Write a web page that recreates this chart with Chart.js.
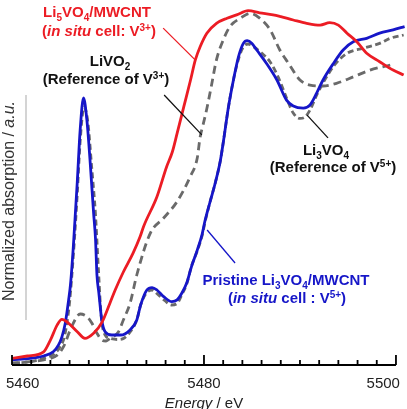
<!DOCTYPE html>
<html>
<head>
<meta charset="utf-8">
<script src="https://cdn.jsdelivr.net/npm/chart.js@4.4.1/dist/chart.umd.min.js"></script>
<style>
  html, body { margin: 0; padding: 0; background: #fff; }
</style>
</head>
<body>
<canvas id="xanes" width="407" height="409"></canvas>
<script>
// x axis: energy in eV
const energyLabels = [5460, 5480, 5500];
const energyMin = 5460;
const energyMax = 5500;
const minorStep = 2;

// Li5VO4/MWCNT, in situ cell (V3+)
const li5Energy = [5460.0, 5461.6, 5463.3, 5464.0, 5464.7, 5465.2, 5465.9, 5466.8, 5467.6, 5468.5,
  5469.4, 5470.2, 5470.75, 5471.6, 5472.6, 5473.35, 5473.7, 5475.1,
  5476.1, 5476.7, 5477.2, 5477.9, 5478.6, 5479.1, 5479.6, 5480.3, 5481.3, 5482.4,
  5483.4, 5484.6, 5485.8, 5487.2, 5488.0, 5489.3, 5490.7, 5492.1, 5493.1, 5494.0,
  5494.9, 5495.9, 5496.95, 5498.3, 5499.7, 5500.8];
const li5Abs = [0.022, 0.030, 0.044, 0.083, 0.133, 0.152, 0.139, 0.111, 0.089, 0.106,
  0.144, 0.206, 0.250, 0.310, 0.372, 0.428, 0.461, 0.561,
  0.660, 0.710, 0.772, 0.861, 0.950, 1.017, 1.061, 1.106, 1.139, 1.156,
  1.167, 1.181, 1.174, 1.167, 1.161, 1.150, 1.139, 1.133, 1.141, 1.133,
  1.106, 1.078, 1.039, 1.011, 0.983, 0.967];

// Pristine Li3VO4/MWCNT, in situ cell (V5+)
const pristineEnergy = [5460.0, 5461.9, 5463.3, 5464.3, 5464.85, 5465.2, 5465.55, 5465.9, 5466.1, 5466.4,
  5466.8, 5467.1, 5467.45, 5467.8, 5468.15, 5468.5, 5468.7, 5468.85, 5469.05, 5469.35,
  5469.7, 5470.4, 5471.3, 5472.3, 5473.0, 5473.4, 5474.05, 5474.6, 5475.1, 5475.8,
  5476.65, 5477.2, 5477.7, 5478.2, 5478.7, 5479.3, 5479.8, 5480.1, 5480.6, 5481.2,
  5481.7, 5482.0, 5482.55, 5483.1, 5483.6, 5484.1, 5484.5, 5485.0, 5485.5, 5486.5,
  5487.6, 5488.6, 5489.3, 5490.35, 5491.05, 5491.75, 5492.4, 5493.5, 5494.5, 5495.6,
  5496.95, 5498.3, 5499.7, 5500.9];
const pristineAbs = [0.017, 0.022, 0.030, 0.044, 0.067, 0.094, 0.139, 0.217, 0.270, 0.400,
  0.610, 0.783, 0.890, 0.817, 0.673, 0.507, 0.420, 0.300, 0.240, 0.150,
  0.111, 0.100, 0.100, 0.117, 0.150, 0.200, 0.250, 0.258, 0.250, 0.228,
  0.211, 0.217, 0.240, 0.273, 0.328, 0.383, 0.435, 0.480, 0.540, 0.610,
  0.680, 0.740, 0.860, 0.955, 1.028, 1.072, 1.081, 1.072, 1.050, 1.006,
  0.950, 0.883, 0.863, 0.856, 0.867, 0.907, 0.950, 1.006, 1.050, 1.078,
  1.089, 1.106, 1.117, 1.128];

// LiVO2 reference (V3+)
const livo2Energy = [5460.0, 5461.9, 5463.3, 5464.7, 5465.37, 5466.07, 5466.77, 5467.11, 5467.81, 5468.33,
  5468.85, 5469.37, 5469.8, 5470.23, 5471.1, 5471.6, 5472.3, 5473.0, 5474.4, 5475.8,
  5477.2, 5478.6, 5479.3, 5479.6, 5479.9, 5480.3, 5480.8, 5481.3, 5482.0, 5482.7,
  5483.8, 5484.8, 5485.8, 5486.9, 5487.9, 5488.8, 5490.0, 5491.05, 5492.4, 5493.8,
  5495.6, 5497.3, 5499.4];
const livo2Abs = [0.006, 0.011, 0.017, 0.033, 0.061, 0.117, 0.161, 0.170, 0.161, 0.139,
  0.106, 0.083, 0.080, 0.089, 0.111, 0.150, 0.206, 0.300, 0.439, 0.490,
  0.545, 0.630, 0.690, 0.760, 0.800, 0.855, 0.935, 1.017, 1.083, 1.128,
  1.156, 1.172, 1.156, 1.117, 1.050, 1.006, 0.950, 0.933, 0.930, 0.939,
  0.961, 0.983, 1.000];

// Li3VO4 reference (V5+)
const li3vo4Energy = [5460.0, 5461.9, 5463.3, 5464.3, 5465.0, 5465.5, 5466.0, 5466.4, 5466.8, 5467.1,
  5467.5, 5467.9, 5468.3, 5468.7, 5469.0, 5469.3, 5469.7, 5470.3, 5471.0, 5471.7,
  5472.3, 5473.0, 5473.4, 5474.0, 5474.6, 5475.2, 5475.9, 5476.6, 5477.2, 5477.7,
  5478.2, 5478.7, 5479.3, 5479.8, 5480.1, 5480.6, 5481.2, 5481.7, 5482.0, 5482.55,
  5483.1, 5483.6, 5484.1, 5484.6, 5485.2, 5486.0, 5486.9, 5487.8, 5488.6, 5489.3,
  5490.0, 5490.5, 5491.05, 5491.75, 5492.4, 5493.6, 5494.9, 5496.6, 5498.3, 5499.4,
  5500.8];
const li3vo4Abs = [0.006, 0.011, 0.022, 0.035, 0.060, 0.100, 0.210, 0.370, 0.570, 0.745,
  0.860, 0.810, 0.660, 0.500, 0.320, 0.160, 0.100, 0.088, 0.085, 0.090,
  0.110, 0.150, 0.200, 0.240, 0.250, 0.235, 0.215, 0.200, 0.205, 0.235,
  0.270, 0.330, 0.380, 0.430, 0.475, 0.540, 0.610, 0.680, 0.740, 0.860,
  0.955, 1.020, 1.060, 1.070, 1.060, 1.040, 1.010, 0.955, 0.890, 0.840,
  0.822, 0.826, 0.850, 0.900, 0.940, 1.000, 1.039, 1.056, 1.072, 1.089,
  1.100];

const RED = 'rgb(236,28,36)';
const BLUE = 'rgb(22,22,200)';
const GREY = '#6a6a6a';
const FONT = '"Liberation Sans", Arial, Helvetica, sans-serif';

const pts = (xs, ys) => xs.map((v, i) => ({ x: v, y: ys[i] }));

// draws text made of pieces (sub/superscripts, italics), centred on cx
function richText(ctx, parts, cx, base, size, color, weight) {
  const fontOf = p => (p.i ? 'italic ' : '') + weight + ' ' +
    (p.s ? Math.round(size * 0.68) : size) + 'px ' + FONT;
  let w = 0;
  parts.forEach(p => { ctx.font = fontOf(p); w += ctx.measureText(p.t).width; });
  let xx = cx - w / 2;
  ctx.fillStyle = color;
  ctx.textAlign = 'left';
  ctx.textBaseline = 'alphabetic';
  parts.forEach(p => {
    ctx.font = fontOf(p);
    const dy = p.s === 'sub' ? size * 0.27 : p.s === 'sup' ? -size * 0.36 : 0;
    ctx.fillText(p.t, xx, base + dy);
    xx += ctx.measureText(p.t).width;
  });
}

// leader lines, in data units (from label to curve)
const leaders = [
  { from: [5475.75, 1.123], to: [5479.08, 1.017], color: RED },
  { from: [5475.85, 0.900], to: [5479.78, 0.767], color: '#111' },
  { from: [5492.92, 0.757], to: [5490.74, 0.833], color: '#111' },
  { from: [5483.24, 0.340], to: [5480.33, 0.450], color: BLUE }
];

const decor = {
  id: 'decor',
  afterDatasetsDraw(chart) {
    const { ctx, scales: { x, y } } = chart;
    ctx.save();

    // leader lines
    ctx.lineWidth = 1.3;
    leaders.forEach(l => {
      ctx.strokeStyle = l.color;
      ctx.beginPath();
      ctx.moveTo(x.getPixelForValue(l.from[0]), y.getPixelForValue(l.from[1]));
      ctx.lineTo(x.getPixelForValue(l.to[0]), y.getPixelForValue(l.to[1]));
      ctx.stroke();
    });

    // x axis line with inward ticks
    const y0 = y.getPixelForValue(0);
    const xa = x.getPixelForValue(energyMin), xb = x.getPixelForValue(energyMax);
    ctx.strokeStyle = '#000';
    ctx.lineWidth = 1.8;
    ctx.beginPath();
    ctx.moveTo(xa, y0); ctx.lineTo(xb, y0);
    for (let e = energyMin; e <= energyMax; e += minorStep) {
      const px = x.getPixelForValue(e);
      const len = energyLabels.includes(e) ? 10 : 5;
      ctx.moveTo(px, y0); ctx.lineTo(px, y0 - len);
    }
    ctx.stroke();

    // tick labels: first and last kept inside the axis
    ctx.font = '15px ' + FONT;
    ctx.fillStyle = '#222';
    ctx.textBaseline = 'alphabetic';
    energyLabels.forEach((e, i) => {
      const px = x.getPixelForValue(e);
      if (i === 0) { ctx.textAlign = 'left'; ctx.fillText(String(e), px - 6, y0 + 23); }
      else if (i === energyLabels.length - 1) { ctx.textAlign = 'right'; ctx.fillText(String(e), px + 4, y0 + 23); }
      else { ctx.textAlign = 'center'; ctx.fillText(String(e), px, y0 + 23); }
    });

    // x title
    richText(ctx, [{ t: 'Energy', i: true }, { t: ' / eV' }], 204, 408, 15, '#222', 'normal');

    // y title and scale bar
    ctx.save();
    ctx.translate(8, 201);
    ctx.rotate(-Math.PI / 2);
    richText(ctx, [{ t: 'Normalized absorption / ' }, { t: 'a.u.', i: true }], 0, 5.5, 16, '#333', 'normal');
    ctx.restore();
    ctx.strokeStyle = '#b8b8b8';
    ctx.lineWidth = 1.2;
    ctx.beginPath();
    ctx.moveTo(26, 95); ctx.lineTo(26, 320);
    ctx.stroke();

    // annotations
    richText(ctx, [{ t: 'Li' }, { t: '5', s: 'sub' }, { t: 'VO' }, { t: '4', s: 'sub' }, { t: '/MWCNT' }], 97, 17, 15, RED, 'bold');
    richText(ctx, [{ t: '(' }, { t: 'in situ', i: true }, { t: ' cell: V' }, { t: '3+', s: 'sup' }, { t: ')' }], 99, 36, 15, RED, 'bold');
    richText(ctx, [{ t: 'LiVO' }, { t: '2', s: 'sub' }], 110, 66, 15, '#111', 'bold');
    richText(ctx, [{ t: '(Reference of V' }, { t: '3+', s: 'sup' }, { t: ')' }], 106, 84, 15, '#111', 'bold');
    richText(ctx, [{ t: 'Li' }, { t: '3', s: 'sub' }, { t: 'VO' }, { t: '4', s: 'sub' }], 326, 155, 15, '#111', 'bold');
    richText(ctx, [{ t: '(Reference of V' }, { t: '5+', s: 'sup' }, { t: ')' }], 333, 172, 15, '#111', 'bold');
    richText(ctx, [{ t: 'Pristine Li' }, { t: '3', s: 'sub' }, { t: 'VO' }, { t: '4', s: 'sub' }, { t: '/MWCNT' }], 286, 285, 15, BLUE, 'bold');
    richText(ctx, [{ t: '(' }, { t: 'in situ', i: true }, { t: ' cell : V' }, { t: '5+', s: 'sup' }, { t: ')' }], 287, 303, 15, BLUE, 'bold');

    ctx.restore();
  }
};

const lineStyle = { pointRadius: 0, borderWidth: 2.8, fill: false, cubicInterpolationMode: 'monotone' };

new Chart(document.getElementById('xanes'), {
  type: 'line',
  data: {
    datasets: [
      { label: 'Li5VO4/MWCNT', data: pts(li5Energy, li5Abs), borderColor: RED, ...lineStyle },
      { label: 'Pristine Li3VO4/MWCNT', data: pts(pristineEnergy, pristineAbs), borderColor: BLUE, ...lineStyle },
      { label: 'Li3VO4', data: pts(li3vo4Energy, li3vo4Abs), borderColor: GREY, borderDash: [6, 3.5], ...lineStyle },
      { label: 'LiVO2', data: pts(livo2Energy, livo2Abs), borderColor: GREY, borderDash: [8, 5], ...lineStyle }
    ]
  },
  options: {
    responsive: false,
    devicePixelRatio: 1,
    animation: false,
    events: [],
    layout: { padding: { left: 12, right: 0, top: 5, bottom: 44 } },
    plugins: { legend: { display: false }, tooltip: { enabled: false } },
    scales: {
      x: { type: 'linear', min: energyMin, max: 5501.15, display: false },
      y: { min: 0, max: 1.2, display: false }
    }
  },
  plugins: [decor]
});
</script>
</body>
</html>
